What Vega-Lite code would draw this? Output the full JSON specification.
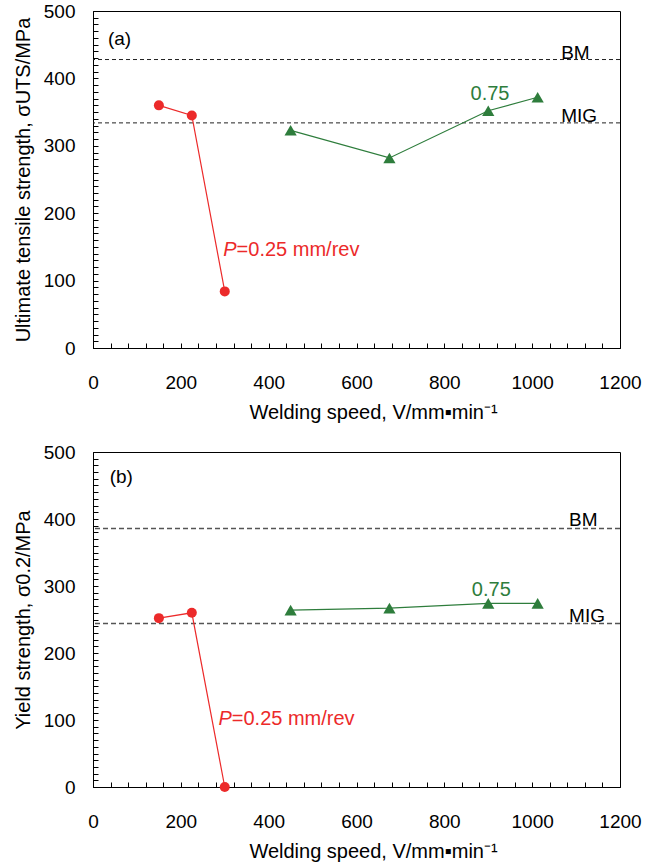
{
  "$schema": "https://vega.github.io/schema/vega-lite/v6.json",
  "autosize": {"type": "pad"},
  "padding": {"left": 12, "top": 1, "right": 5, "bottom": 5},
  "bounds": "flush",
  "spacing": 104,
  "config": {
    "font": "Liberation Sans",
    "view": {"stroke": "black", "strokeWidth": 1},
    "axis": {
      "grid": false,
      "domainColor": "black",
      "tickColor": "black",
      "labelColor": "black",
      "titleColor": "black",
      "labelFont": "Liberation Sans",
      "titleFont": "Liberation Sans",
      "labelFontSize": 19,
      "titleFontSize": 20,
      "titleFontWeight": "normal",
      "tickSize": -5,
      "tickCount": 200,
      "format": "d",
      "labelOverlap": false,
      "labelBound": false,
      "labelFlush": false
    }
  },
  "datasets": {
    "pts": [
      {"panel": "a", "series": "P=0.25", "x": 150, "y": 360},
      {"panel": "a", "series": "P=0.25", "x": 225, "y": 345},
      {"panel": "a", "series": "P=0.25", "x": 300, "y": 84},
      {"panel": "a", "series": "P=0.75", "x": 450, "y": 323},
      {"panel": "a", "series": "P=0.75", "x": 675, "y": 282},
      {"panel": "a", "series": "P=0.75", "x": 900, "y": 352},
      {"panel": "a", "series": "P=0.75", "x": 1012.5, "y": 372},
      {"panel": "b", "series": "P=0.25", "x": 150, "y": 252},
      {"panel": "b", "series": "P=0.25", "x": 225, "y": 260},
      {"panel": "b", "series": "P=0.25", "x": 300, "y": 0},
      {"panel": "b", "series": "P=0.75", "x": 450, "y": 264},
      {"panel": "b", "series": "P=0.75", "x": 675, "y": 267},
      {"panel": "b", "series": "P=0.75", "x": 900, "y": 274},
      {"panel": "b", "series": "P=0.75", "x": 1012.5, "y": 274}
    ],
    "refs": [
      {"panel": "a", "label": "BM", "y": 428},
      {"panel": "a", "label": "MIG", "y": 334},
      {"panel": "b", "label": "BM", "y": 386},
      {"panel": "b", "label": "MIG", "y": 244}
    ],
    "one": [{}]
  },
  "vconcat": [
    {
      "width": 527,
      "height": 337,
      "layer": [
        {
          "data": {"name": "refs"},
          "transform": [{"filter": "datum.panel === 'a'"}],
          "mark": {"type": "rule", "strokeDash": [4, 3], "color": "#222", "strokeWidth": 1},
          "encoding": {"y": {"field": "y", "type": "quantitative", "scale": {"domain": [0, 500], "nice": false}}}
        },
        {
          "data": {"name": "refs"},
          "transform": [{"filter": "datum.panel === 'a'"}],
          "mark": {"type": "text", "align": "left", "baseline": "alphabetic", "dy": -1, "fontSize": 19, "color": "black"},
          "encoding": {
            "x": {"datum": 1066, "type": "quantitative"},
            "y": {"field": "y", "type": "quantitative"},
            "text": {"field": "label"}
          }
        },
        {
          "data": {"name": "pts"},
          "transform": [{"filter": "datum.panel === 'a'"}],
          "mark": {"type": "line", "strokeWidth": 1.2},
          "encoding": {
            "x": {"field": "x", "type": "quantitative", "scale": {"domain": [0, 1200], "nice": false},
              "axis": {"title": "Welding speed, V/mm▪min⁻¹", "format": "d", "values": [0,40,80,120,160,200,240,280,320,360,400,440,480,520,560,600,640,680,720,760,800,840,880,920,960,1000,1040,1080,1120,1160,1200],
                "labelExpr": "datum.value % 200 === 0 ? datum.label : ''", "labelPadding": 30, "titlePadding": 10, "titleX": 280}},
            "y": {"field": "y", "type": "quantitative", "scale": {"domain": [0, 500], "nice": false},
              "axis": {"title": "Ultimate tensile strength, σUTS/MPa", "format": "d", "values": [0,10,20,30,40,50,60,70,80,90,100,110,120,130,140,150,160,170,180,190,200,210,220,230,240,250,260,270,280,290,300,310,320,330,340,350,360,370,380,390,400,410,420,430,440,450,460,470,480,490,500],
                "labelExpr": "datum.value % 100 === 0 ? datum.label : ''", "labelPadding": 23, "titlePadding": 10}},
            "color": {"field": "series", "type": "nominal", "scale": {"domain": ["P=0.25", "P=0.75"], "range": ["#ec2a2a", "#2e7d3c"]}, "legend": null}
          }
        },
        {
          "data": {"name": "pts"},
          "transform": [{"filter": "datum.panel === 'a'"}],
          "mark": {"type": "point", "filled": true, "opacity": 1},
          "encoding": {
            "x": {"field": "x", "type": "quantitative"},
            "y": {"field": "y", "type": "quantitative"},
            "color": {"field": "series", "type": "nominal", "legend": null},
            "shape": {"field": "series", "type": "nominal", "scale": {"domain": ["P=0.25", "P=0.75"], "range": ["circle", "triangle-up"]}, "legend": null},
            "size": {"field": "series", "type": "nominal", "scale": {"domain": ["P=0.25", "P=0.75"], "range": [100, 150]}, "legend": null}
          }
        },
        {
          "data": {"name": "one"},
          "mark": {"type": "text", "align": "left", "baseline": "middle", "fontSize": 19, "color": "black"},
          "encoding": {"x": {"datum": 34, "type": "quantitative"}, "y": {"datum": 458, "type": "quantitative"}, "text": {"value": "(a)"}}
        },
        {
          "data": {"name": "one"},
          "mark": {"type": "text", "align": "center", "baseline": "middle", "fontSize": 20, "color": "#2e7d3c"},
          "encoding": {"x": {"datum": 904, "type": "quantitative"}, "y": {"datum": 377, "type": "quantitative"}, "text": {"value": "0.75"}}
        },
        {
          "data": {"name": "one"},
          "mark": {"type": "text", "align": "right", "baseline": "middle", "fontSize": 20, "fontStyle": "italic", "color": "#ec2a2a"},
          "encoding": {"x": {"datum": 327, "type": "quantitative"}, "y": {"datum": 145, "type": "quantitative"}, "text": {"value": "P"}}
        },
        {
          "data": {"name": "one"},
          "mark": {"type": "text", "align": "left", "baseline": "middle", "fontSize": 20, "color": "#ec2a2a"},
          "encoding": {"x": {"datum": 327, "type": "quantitative"}, "y": {"datum": 145, "type": "quantitative"}, "text": {"value": "=0.25 mm/rev"}}
        }
      ]
    },
    {
      "width": 527,
      "height": 335,
      "layer": [
        {
          "data": {"name": "refs"},
          "transform": [{"filter": "datum.panel === 'b'"}],
          "mark": {"type": "rule", "strokeDash": [5, 3], "color": "#555", "strokeWidth": 1.5},
          "encoding": {"y": {"field": "y", "type": "quantitative", "scale": {"domain": [0, 500], "nice": false}}}
        },
        {
          "data": {"name": "refs"},
          "transform": [{"filter": "datum.panel === 'b'"}],
          "mark": {"type": "text", "align": "left", "baseline": "alphabetic", "dy": -2, "fontSize": 19, "color": "black"},
          "encoding": {
            "x": {"datum": 1084, "type": "quantitative"},
            "y": {"field": "y", "type": "quantitative"},
            "text": {"field": "label"}
          }
        },
        {
          "data": {"name": "pts"},
          "transform": [{"filter": "datum.panel === 'b'"}],
          "mark": {"type": "line", "strokeWidth": 1.2},
          "encoding": {
            "x": {"field": "x", "type": "quantitative", "scale": {"domain": [0, 1200], "nice": false},
              "axis": {"title": "Welding speed, V/mm▪min⁻¹", "format": "d", "values": [0,40,80,120,160,200,240,280,320,360,400,440,480,520,560,600,640,680,720,760,800,840,880,920,960,1000,1040,1080,1120,1160,1200],
                "labelExpr": "datum.value % 200 === 0 ? datum.label : ''", "labelPadding": 30, "titlePadding": 10, "titleX": 280}},
            "y": {"field": "y", "type": "quantitative", "scale": {"domain": [0, 500], "nice": false},
              "axis": {"title": "Yield strength, σ0.2/MPa", "format": "d", "values": [0,10,20,30,40,50,60,70,80,90,100,110,120,130,140,150,160,170,180,190,200,210,220,230,240,250,260,270,280,290,300,310,320,330,340,350,360,370,380,390,400,410,420,430,440,450,460,470,480,490,500],
                "labelExpr": "datum.value % 100 === 0 ? datum.label : ''", "labelPadding": 23, "titlePadding": 10}},
            "color": {"field": "series", "type": "nominal", "scale": {"domain": ["P=0.25", "P=0.75"], "range": ["#ec2a2a", "#2e7d3c"]}, "legend": null}
          }
        },
        {
          "data": {"name": "pts"},
          "transform": [{"filter": "datum.panel === 'b'"}],
          "mark": {"type": "point", "filled": true, "opacity": 1},
          "encoding": {
            "x": {"field": "x", "type": "quantitative"},
            "y": {"field": "y", "type": "quantitative"},
            "color": {"field": "series", "type": "nominal", "legend": null},
            "shape": {"field": "series", "type": "nominal", "scale": {"domain": ["P=0.25", "P=0.75"], "range": ["circle", "triangle-up"]}, "legend": null},
            "size": {"field": "series", "type": "nominal", "scale": {"domain": ["P=0.25", "P=0.75"], "range": [100, 150]}, "legend": null}
          }
        },
        {
          "data": {"name": "one"},
          "mark": {"type": "text", "align": "left", "baseline": "middle", "fontSize": 19, "color": "black"},
          "encoding": {"x": {"datum": 38, "type": "quantitative"}, "y": {"datum": 463, "type": "quantitative"}, "text": {"value": "(b)"}}
        },
        {
          "data": {"name": "one"},
          "mark": {"type": "text", "align": "center", "baseline": "middle", "fontSize": 20, "color": "#2e7d3c"},
          "encoding": {"x": {"datum": 907, "type": "quantitative"}, "y": {"datum": 294, "type": "quantitative"}, "text": {"value": "0.75"}}
        },
        {
          "data": {"name": "one"},
          "mark": {"type": "text", "align": "right", "baseline": "middle", "fontSize": 20, "fontStyle": "italic", "color": "#ec2a2a"},
          "encoding": {"x": {"datum": 316, "type": "quantitative"}, "y": {"datum": 102, "type": "quantitative"}, "text": {"value": "P"}}
        },
        {
          "data": {"name": "one"},
          "mark": {"type": "text", "align": "left", "baseline": "middle", "fontSize": 20, "color": "#ec2a2a"},
          "encoding": {"x": {"datum": 316, "type": "quantitative"}, "y": {"datum": 102, "type": "quantitative"}, "text": {"value": "=0.25 mm/rev"}}
        }
      ]
    }
  ]
}
